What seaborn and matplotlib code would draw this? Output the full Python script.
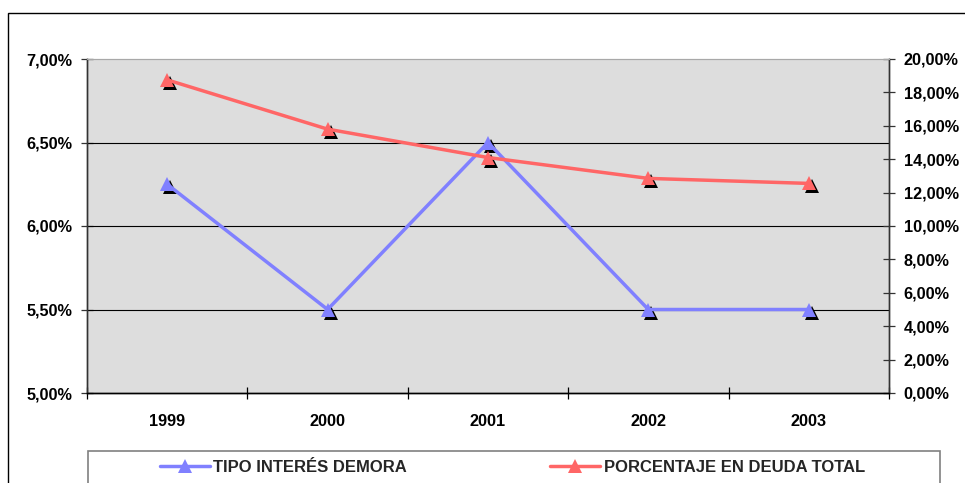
import matplotlib
matplotlib.use("Agg")
import matplotlib.pyplot as plt
import matplotlib.transforms as mtransforms
from matplotlib.lines import Line2D
from matplotlib.patches import Rectangle
from matplotlib.ticker import FuncFormatter, MultipleLocator, FixedLocator
import seaborn as sns
import pandas as pd

# Data
years = ["1999", "2000", "2001", "2002", "2003"]
tipo_interes = [6.25, 5.50, 6.50, 5.50, 5.50]          # % (left axis)
porcentaje_deuda = [18.75, 15.80, 14.10, 12.85, 12.55]  # % (right axis)
labels = ["TIPO INTERÉS DEMORA", "PORCENTAJE EN DEUDA TOTAL"]

df = pd.DataFrame({"year": years, "tipo": tipo_interes, "deuda": porcentaje_deuda})

sns.set_theme(style="white")
plt.rcParams["font.family"] = ["Liberation Sans", "DejaVu Sans"]
plt.rcParams["font.weight"] = "bold"

FS = 11.7
FS_LEG = 12
BLUE = "#8080FF"
RED = "#FF6666"

fig = plt.figure(figsize=(9.65, 4.83), dpi=100)
fig.patch.set_facecolor("white")
W, H = 965, 483
ax = fig.add_axes([87 / W, 1 - 393 / H, (889 - 87) / W, (393 - 59) / H])
ax.set_facecolor("#DDDDDD")
ax2 = ax.twinx()

shadow = mtransforms.ScaledTranslation(3 / 100, -3 / 100, fig.dpi_scale_trans)
MS = 10.5
LW = 2.5

# gridlines on the left scale
for g in [5.5, 6.0, 6.5]:
    ax.axhline(g, color="black", lw=0.8, zorder=1)

# blue series: shadow markers, then the line with markers
sns.lineplot(data=df, x="year", y="tipo", ax=ax, color="black", marker="^",
             markersize=MS, linestyle="", markeredgewidth=0, sort=False, zorder=2)
ax.lines[-1].set_transform(ax.transData + shadow)
sns.lineplot(data=df, x="year", y="tipo", ax=ax, color=BLUE, marker="^",
             markersize=MS, lw=LW, markeredgewidth=0, sort=False, zorder=3)

# red series on the right scale
ax.set_zorder(1)
ax2.set_zorder(2)
ax2.patch.set_visible(False)
sns.lineplot(data=df, x="year", y="deuda", ax=ax2, color="black", marker="^",
             markersize=MS, linestyle="", markeredgewidth=0, sort=False, zorder=2)
ax2.lines[-1].set_transform(ax2.transData + shadow)
sns.lineplot(data=df, x="year", y="deuda", ax=ax2, color=RED, marker="^",
             markersize=MS, lw=LW, markeredgewidth=0, sort=False, zorder=3)

# axes limits and ticks
ax.set_xlim(-0.5, len(years) - 0.5)
ax.set_ylim(5.0, 7.0)
ax2.set_ylim(0, 20)
ax.set_xlabel("")
ax.set_ylabel("")
ax2.set_ylabel("")

pct = FuncFormatter(lambda v, p: f"{v:.2f}".replace(".", ",") + "%")
ax.yaxis.set_major_locator(MultipleLocator(0.5))
ax.yaxis.set_major_formatter(pct)
ax2.yaxis.set_major_locator(MultipleLocator(2))
ax2.yaxis.set_major_formatter(pct)

ax.set_xticks(range(len(years)))
ax.set_xticklabels(years)
ax.xaxis.set_minor_locator(FixedLocator([i - 0.5 for i in range(len(years) + 1)]))
ax.tick_params(axis="x", which="major", length=0, pad=15, labelsize=FS, labelcolor="black")
ax.tick_params(axis="x", which="minor", direction="inout", length=9, width=0.9, color="black", bottom=True)
ax.tick_params(axis="y", direction="inout", length=9, width=0.9, color="#333333",
               pad=6, labelsize=FS, labelcolor="black", left=True)
ax2.tick_params(axis="y", direction="inout", length=9, width=0.9, color="#333333",
                pad=6, labelsize=FS, labelcolor="black", right=True)
for lab in ax.get_xticklabels() + ax.get_yticklabels() + ax2.get_yticklabels():
    lab.set_fontweight("bold")

for a in (ax, ax2):
    a.spines["top"].set_color("#A8A8A8")
    a.spines["top"].set_linewidth(0.8)
    a.spines["bottom"].set_color("black")
    a.spines["bottom"].set_linewidth(1.0)
    a.spines["left"].set_color("#333333")
    a.spines["right"].set_color("#333333")
    a.spines["left"].set_linewidth(1.0)
    a.spines["right"].set_linewidth(1.0)

# outer chart border (runs past the right and bottom edges)
fig.patches.append(Rectangle((8 / W, -0.2), 1.2, 0.2 + (1 - 13 / H), transform=fig.transFigure,
                             fill=False, edgecolor="black", lw=1.0, clip_on=False))

# legend box at the bottom
fig.patches.append(Rectangle((88 / W, -0.2), (940 - 88) / W, 0.2 + (1 - 451 / H),
                             transform=fig.transFigure, fill=False, edgecolor="#808080",
                             lw=1.2, clip_on=False))
handles = [
    Line2D([], [], color=BLUE, lw=LW, marker="^", markersize=MS, markeredgewidth=0),
    Line2D([], [], color=RED, lw=LW, marker="^", markersize=MS, markeredgewidth=0),
]
fig.legend(handles, labels, loc="center left", bbox_to_anchor=(160 / W, 1 - 467 / H),
           ncol=2, frameon=False, handlelength=3.0, handletextpad=0.2,
           columnspacing=8.6, prop={"size": FS_LEG, "weight": "bold"}, borderaxespad=0,
           borderpad=0)

fig.savefig("out.png", dpi=100, facecolor="white")
